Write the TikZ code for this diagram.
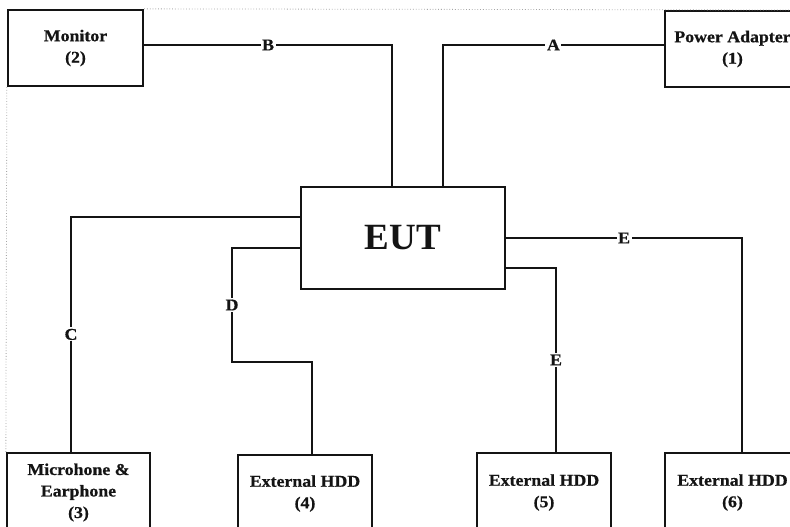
\documentclass[tikz,border=0pt]{standalone}
\usepackage{fontspec}
\setmainfont{Liberation Serif}
\newfontfamily\boxfont[FakeStretch=1.08,FakeBold=0.6]{Liberation Serif}
\begin{document}
\begin{tikzpicture}[x=1pt,y=-1pt,
  box/.style={draw=black!92, line width=2.3pt, rectangle, inner sep=0pt,
    align=center, text=black!92, font=\boxfont\bfseries\fontsize{16.5}{21.5}\selectfont},
  wire/.style={draw=black!92, line width=1.9pt},
  lab/.style={fill=white, inner sep=1.5pt, text=black!92,
    font=\boxfont\bfseries\fontsize{16.5}{16.5}\selectfont},
  border/.style={draw=black!35, line width=0.8pt, dotted}]
\useasboundingbox (0,0) rectangle (790,527);
\clip (0,0) rectangle (790,527);
\fill[white] (0,0) rectangle (790,527);

\node[box, minimum width=135pt, minimum height=76pt] (mon) at (75.5,48) {Monitor\\(2)};
\node[box, minimum width=135pt, minimum height=76pt] (pwr) at (732.5,49) {Power Adapter\\(1)};
\node[box, minimum width=204pt, minimum height=102pt,
      font=\bfseries\fontsize{37}{37}\selectfont] (eut) at (403,238) {EUT};
\node[box, minimum width=143pt, minimum height=79pt] (mic) at (78.5,492.5) {Microhone \&\\Earphone\\(3)};
\node[box, minimum width=134pt, minimum height=77pt] (hdd4) at (305,493.5) {External HDD\\(4)};
\node[box, minimum width=134pt, minimum height=79pt] (hdd5) at (544,492.5) {External HDD\\(5)};
\node[box, minimum width=135pt, minimum height=79pt] (hdd6) at (732.5,492.5) {External HDD\\(6)};

\draw[border] (mon.north east) -- (790,10);
\draw[border] (mon.south west) -- (mic.north west);

\draw[wire] (mon.east |- 0,45) -| node[lab,pos=0.25]{B} (eut.north -| 392,0);
\draw[wire] (pwr.west |- 0,45) -| node[lab,pos=0.25]{A} (eut.north -| 443,0);
\draw[wire] (eut.west |- 0,217) -| node[lab,pos=0.75]{C} (mic.north -| 71,0);
\draw[wire] (eut.west |- 0,248) -| node[lab,pos=0.75]{D} (232,362) -| (hdd4.north -| 312,0);
\draw[wire] (eut.east) -| node[lab,pos=0.25]{E} (hdd6.north -| 742,0);
\draw[wire] (eut.east |- 0,268) -| node[lab,pos=0.75]{E} (hdd5.north -| 556,0);
\end{tikzpicture}
\end{document}
